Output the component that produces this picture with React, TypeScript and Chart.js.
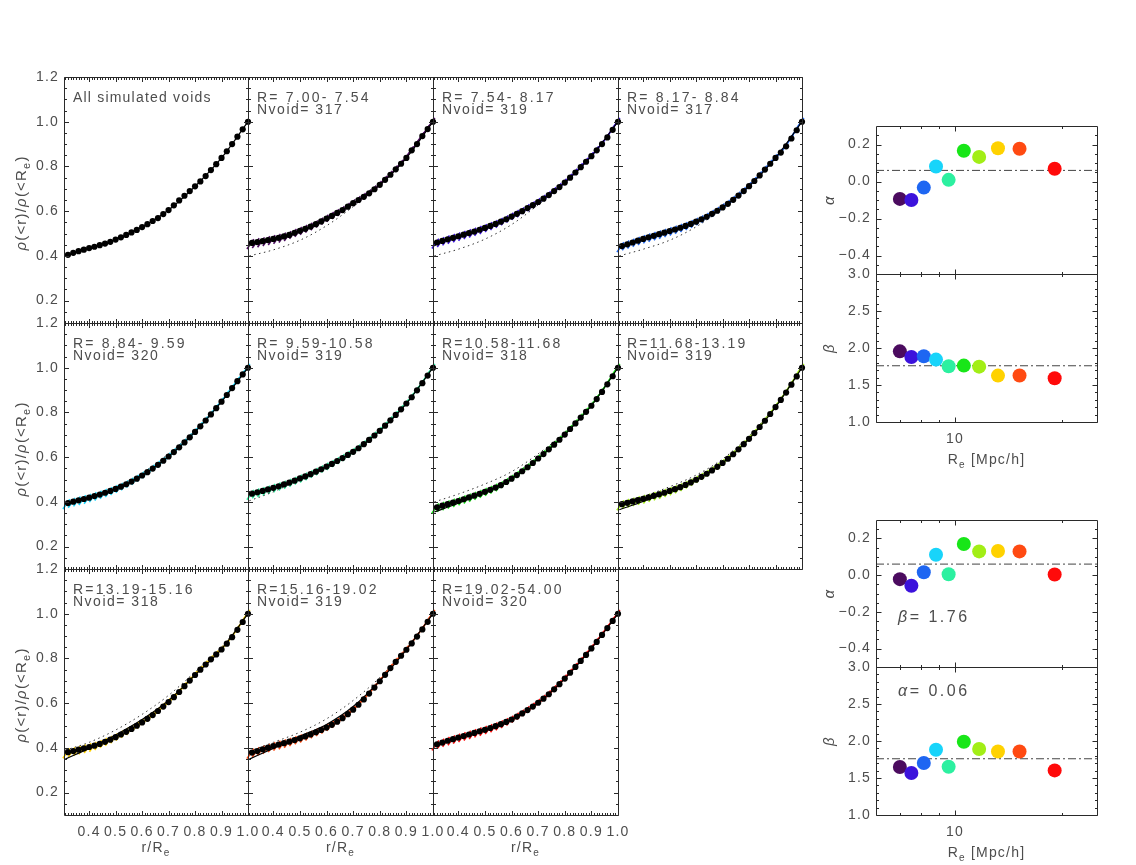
import React, { useEffect, useRef } from 'react';
import { Chart, registerables } from 'chart.js';
Chart.register(...registerables);

const W = 1136;
const H = 865;
const FONT = '"Liberation Sans", Arial, sans-serif';
const TEXT = '#4d4d4d';
const LINE = '#2a2a2a';

// ---------- data: stacked profiles ----------
const R_OVER_RE = [0.32, 0.34, 0.36, 0.38, 0.40, 0.42, 0.44, 0.46, 0.48, 0.50, 0.52, 0.54, 0.56, 0.58, 0.60, 0.62, 0.64, 0.66, 0.68, 0.70, 0.72, 0.74, 0.76, 0.78, 0.80, 0.82, 0.84, 0.86, 0.88, 0.90, 0.92, 0.94, 0.96, 0.98, 1.00];
const FIT_R = [0.31, 0.40, 0.50, 0.60, 0.70, 0.80, 0.90, 1.00];

const P_ALL = [0.405, 0.414, 0.421, 0.428, 0.435, 0.441, 0.448, 0.455, 0.463, 0.473, 0.483, 0.494, 0.505, 0.516, 0.529, 0.542, 0.556, 0.569, 0.587, 0.605, 0.626, 0.648, 0.669, 0.690, 0.711, 0.733, 0.757, 0.784, 0.810, 0.838, 0.868, 0.900, 0.933, 0.966, 1.000];
const P_700 = [0.458, 0.462, 0.466, 0.471, 0.476, 0.481, 0.487, 0.494, 0.503, 0.512, 0.521, 0.531, 0.542, 0.554, 0.567, 0.579, 0.592, 0.605, 0.620, 0.636, 0.650, 0.664, 0.680, 0.698, 0.718, 0.740, 0.763, 0.787, 0.812, 0.838, 0.872, 0.900, 0.936, 0.967, 1.000];
const P_754 = [0.460, 0.467, 0.474, 0.481, 0.488, 0.495, 0.502, 0.509, 0.517, 0.525, 0.534, 0.543, 0.553, 0.564, 0.576, 0.588, 0.600, 0.614, 0.627, 0.641, 0.656, 0.672, 0.690, 0.708, 0.728, 0.750, 0.773, 0.797, 0.821, 0.846, 0.872, 0.900, 0.930, 0.964, 1.000];
const P_817 = [0.444, 0.452, 0.460, 0.468, 0.476, 0.483, 0.490, 0.497, 0.504, 0.511, 0.518, 0.526, 0.534, 0.543, 0.553, 0.564, 0.575, 0.588, 0.602, 0.617, 0.633, 0.651, 0.670, 0.690, 0.712, 0.735, 0.760, 0.786, 0.812, 0.838, 0.862, 0.890, 0.925, 0.962, 1.000];
const P_884 = [0.395, 0.401, 0.407, 0.413, 0.419, 0.426, 0.433, 0.441, 0.449, 0.458, 0.468, 0.479, 0.491, 0.504, 0.518, 0.533, 0.549, 0.566, 0.584, 0.603, 0.623, 0.644, 0.666, 0.689, 0.713, 0.738, 0.764, 0.791, 0.819, 0.848, 0.878, 0.909, 0.940, 0.970, 1.000];
const P_959 = [0.437, 0.443, 0.449, 0.456, 0.463, 0.470, 0.478, 0.486, 0.495, 0.505, 0.514, 0.524, 0.535, 0.546, 0.558, 0.570, 0.583, 0.596, 0.610, 0.624, 0.640, 0.658, 0.677, 0.697, 0.718, 0.741, 0.765, 0.789, 0.814, 0.840, 0.868, 0.899, 0.931, 0.965, 1.000];
const P_1058 = [0.376, 0.383, 0.390, 0.397, 0.404, 0.412, 0.420, 0.428, 0.436, 0.445, 0.454, 0.464, 0.475, 0.489, 0.504, 0.520, 0.537, 0.555, 0.574, 0.594, 0.614, 0.635, 0.656, 0.678, 0.701, 0.726, 0.751, 0.777, 0.803, 0.830, 0.860, 0.892, 0.926, 0.962, 1.000];
const P_1168 = [0.390, 0.396, 0.402, 0.408, 0.414, 0.420, 0.427, 0.434, 0.441, 0.449, 0.457, 0.466, 0.476, 0.487, 0.499, 0.512, 0.526, 0.541, 0.557, 0.574, 0.593, 0.613, 0.635, 0.658, 0.682, 0.708, 0.735, 0.763, 0.793, 0.824, 0.856, 0.889, 0.924, 0.961, 1.000];
const P_1319 = [0.381, 0.386, 0.392, 0.398, 0.404, 0.410, 0.418, 0.427, 0.437, 0.448, 0.460, 0.472, 0.485, 0.499, 0.514, 0.530, 0.547, 0.565, 0.585, 0.605, 0.627, 0.650, 0.676, 0.701, 0.726, 0.750, 0.773, 0.796, 0.818, 0.840, 0.866, 0.895, 0.928, 0.963, 1.000];
const P_1516 = [0.379, 0.386, 0.394, 0.401, 0.408, 0.415, 0.421, 0.428, 0.435, 0.443, 0.451, 0.460, 0.470, 0.480, 0.491, 0.503, 0.517, 0.533, 0.551, 0.571, 0.593, 0.617, 0.643, 0.670, 0.698, 0.727, 0.757, 0.785, 0.812, 0.839, 0.867, 0.898, 0.930, 0.964, 1.000];
const P_1902 = [0.416, 0.424, 0.432, 0.439, 0.446, 0.453, 0.460, 0.467, 0.474, 0.481, 0.489, 0.497, 0.506, 0.516, 0.527, 0.540, 0.554, 0.569, 0.585, 0.602, 0.620, 0.640, 0.662, 0.685, 0.710, 0.736, 0.762, 0.789, 0.816, 0.845, 0.874, 0.905, 0.936, 0.968, 1.000];

// best-fit curves (solid)
const F_ALL = [0.400, 0.435, 0.473, 0.529, 0.605, 0.711, 0.838, 1.000];
const F_700 = [0.456, 0.476, 0.512, 0.567, 0.636, 0.718, 0.838, 1.000];
const F_754 = [0.457, 0.488, 0.525, 0.576, 0.641, 0.728, 0.846, 1.000];
const F_817 = [0.438, 0.474, 0.511, 0.553, 0.617, 0.712, 0.838, 1.000];
const F_884 = [0.392, 0.419, 0.458, 0.518, 0.603, 0.713, 0.848, 1.000];
const F_959 = [0.433, 0.463, 0.505, 0.558, 0.624, 0.718, 0.840, 1.000];
const F_1058 = [0.355, 0.394, 0.445, 0.504, 0.594, 0.701, 0.830, 1.000];
const F_1168 = [0.365, 0.402, 0.449, 0.499, 0.574, 0.682, 0.824, 1.000];
const F_1319 = [0.350, 0.398, 0.458, 0.527, 0.612, 0.726, 0.842, 1.000];
const F_1516 = [0.350, 0.398, 0.452, 0.505, 0.585, 0.700, 0.840, 1.000];
const F_1902 = [0.413, 0.446, 0.481, 0.527, 0.602, 0.710, 0.845, 1.000];

// universal-parameter curves (dotted)
const D_700 = [0.400, 0.427, 0.470, 0.535, 0.620, 0.718, 0.838, 1.000];
const D_754 = [0.400, 0.430, 0.475, 0.540, 0.628, 0.728, 0.846, 1.000];
const D_817 = [0.400, 0.430, 0.470, 0.530, 0.612, 0.712, 0.838, 1.000];
const D_884 = [0.390, 0.421, 0.465, 0.528, 0.615, 0.720, 0.850, 1.000];
const D_959 = [0.405, 0.445, 0.500, 0.556, 0.624, 0.718, 0.840, 1.000];
const D_1058 = [0.400, 0.435, 0.480, 0.535, 0.615, 0.710, 0.835, 1.000];
const D_1168 = [0.392, 0.425, 0.468, 0.520, 0.592, 0.695, 0.830, 1.000];
const D_1319 = [0.390, 0.425, 0.480, 0.550, 0.635, 0.740, 0.850, 1.000];
const D_1516 = [0.385, 0.425, 0.470, 0.530, 0.612, 0.715, 0.845, 1.000];
const D_1902 = [0.405, 0.440, 0.480, 0.527, 0.602, 0.710, 0.845, 1.000];

const PANEL_TITLES = ['All simulated voids', 'R= 7.00- 7.54', 'R= 7.54- 8.17', 'R= 8.17- 8.84', 'R= 8.84- 9.59', 'R= 9.59-10.58', 'R=10.58-11.68', 'R=11.68-13.19', 'R=13.19-15.16', 'R=15.16-19.02', 'R=19.02-54.00'];
const NVOID = [0, 317, 319, 317, 320, 319, 318, 319, 318, 319, 320];
const PROFILES = [P_ALL, P_700, P_754, P_817, P_884, P_959, P_1058, P_1168, P_1319, P_1516, P_1902];
const FITS = [F_ALL, F_700, F_754, F_817, F_884, F_959, F_1058, F_1168, F_1319, F_1516, F_1902];
const DOTTED = [null, D_700, D_754, D_817, D_884, D_959, D_1058, D_1168, D_1319, D_1516, D_1902];

// ---------- data: fitted parameters ----------
const BIN_RE = [7.00, 7.54, 8.17, 8.84, 9.59, 10.58, 11.68, 13.19, 15.16, 19.02];
const BIN_COLORS = ['#4b0b5f', '#3c12dc', '#1e66f2', '#18d4fa', '#2cf0a0', '#18e618', '#a2ee16', '#ffd200', '#ff4a12', '#ff0a0a'];
const ALPHA_FREE = [-0.094, -0.100, -0.033, 0.081, 0.009, 0.166, 0.133, 0.180, 0.177, 0.069];
const BETA_FREE = [1.955, 1.878, 1.888, 1.843, 1.753, 1.762, 1.748, 1.627, 1.628, 1.591];
const ALPHA_FIXED_BETA = [-0.022, -0.058, 0.016, 0.111, 0.005, 0.169, 0.129, 0.131, 0.129, 0.003];
const BETA_FIXED_ALPHA = [1.649, 1.568, 1.703, 1.882, 1.653, 1.990, 1.892, 1.859, 1.859, 1.603];
const ALPHA_MEAN = 0.06;
const BETA_MEAN = 1.76;

// tick label lists
const PROFILE_Y_TICKS = [0.2, 0.4, 0.6, 0.8, 1.0, 1.2];
const PROFILE_X_TICKS = [0.4, 0.5, 0.6, 0.7, 0.8, 0.9, 1.0];
const ALPHA_TICKS = [-0.4, -0.2, 0.0, 0.2];
const BETA_TICKS = [1.0, 1.5, 2.0, 2.5, 3.0];
const RE_MAJOR = [10];
const RE_MINOR = [7, 8, 9, 20];

// ---------- layout ----------
const COL_EDGES = [64, 248, 433, 618, 802];
const ROW_EDGES = [77, 323, 569, 815];
const RIGHT_L = 876;
const RIGHT_R = 1097;

type Seg = { t: string; it?: boolean; sub?: boolean };

function drawRich(ctx: CanvasRenderingContext2D, segs: Seg[], x: number, y: number, align: 'left' | 'center' | 'right', size: number, rotate = false, spacing = 1.2) {
  ctx.save();
  ctx.translate(x, y);
  if (rotate) ctx.rotate(-Math.PI / 2);
  (ctx as any).letterSpacing = spacing + 'px';
  ctx.fillStyle = TEXT;
  ctx.textAlign = 'left';
  ctx.textBaseline = 'middle';
  const fontFor = (s: Seg) => `${s.it ? 'italic ' : ''}${s.sub ? Math.round(size * 0.7) : size}px ${FONT}`;
  const widths = segs.map((s) => {
    ctx.font = fontFor(s);
    return ctx.measureText(s.t).width;
  });
  const total = widths.reduce((a, b) => a + b, 0);
  let cx = align === 'left' ? 0 : align === 'center' ? -total / 2 : -total;
  segs.forEach((s, i) => {
    ctx.font = fontFor(s);
    ctx.fillText(s.t, cx, s.sub ? size * 0.35 : 0);
    cx += widths[i];
  });
  ctx.restore();
}

type FrameCfg = {
  xMajor: number[];
  xMinor: number[];
  yMajor: number[];
  yMinor: number[];
  majLen: number;
  minLen: number;
  xLabels?: { v: number; t: string }[];
  yLabels?: { v: number; t: string }[];
  extra?: (ctx: CanvasRenderingContext2D, a: any) => void;
};

function framePlugin(cfg: FrameCfg) {
  return {
    id: 'frame',
    afterDraw(chart: any) {
      const { ctx, chartArea: a, scales } = chart;
      const x = scales.x;
      const y = scales.y;
      ctx.save();
      ctx.strokeStyle = LINE;
      ctx.lineWidth = 1;
      ctx.beginPath();
      ctx.rect(a.left + 0.5, a.top + 0.5, a.right - a.left, a.bottom - a.top);
      ctx.stroke();
      const vtick = (v: number, len: number) => {
        const px = Math.round(x.getPixelForValue(v)) + 0.5;
        ctx.moveTo(px, a.bottom + 0.5);
        ctx.lineTo(px, a.bottom + 0.5 - len);
        ctx.moveTo(px, a.top + 0.5);
        ctx.lineTo(px, a.top + 0.5 + len);
      };
      const htick = (v: number, len: number) => {
        const py = Math.round(y.getPixelForValue(v)) + 0.5;
        ctx.moveTo(a.left + 0.5, py);
        ctx.lineTo(a.left + 0.5 + len, py);
        ctx.moveTo(a.right + 0.5, py);
        ctx.lineTo(a.right + 0.5 - len, py);
      };
      ctx.beginPath();
      cfg.xMajor.forEach((v) => vtick(v, cfg.majLen));
      cfg.xMinor.forEach((v) => vtick(v, cfg.minLen));
      cfg.yMajor.forEach((v) => htick(v, cfg.majLen));
      cfg.yMinor.forEach((v) => htick(v, cfg.minLen));
      ctx.stroke();
      (cfg.xLabels || []).forEach((l) => {
        drawRich(ctx, [{ t: l.t }], x.getPixelForValue(l.v), a.bottom + 17, 'center', 14);
      });
      (cfg.yLabels || []).forEach((l) => {
        drawRich(ctx, [{ t: l.t }], a.left - 5, y.getPixelForValue(l.v), 'right', 14);
      });
      if (cfg.extra) cfg.extra(ctx, a);
      ctx.restore();
    },
  };
}

function baseOptions(l: number, t: number, r: number, b: number, xScale: any, yScale: any) {
  return {
    animation: false,
    responsive: false,
    devicePixelRatio: 1,
    events: [],
    layout: { padding: { left: l, top: t, right: W - r, bottom: H - b } },
    plugins: { legend: { display: false }, tooltip: { enabled: false }, title: { display: false } },
    scales: {
      x: { ...xScale, display: false },
      y: { ...yScale, display: false },
    },
  };
}

function range(from: number, to: number, step: number): number[] {
  const out: number[] = [];
  const n = Math.round((to - from) / step);
  for (let i = 0; i <= n; i++) out.push(+(from + i * step).toFixed(4));
  return out;
}

const RHO_TITLE: Seg[] = [{ t: 'ρ', it: true }, { t: '(<r)/' }, { t: 'ρ', it: true }, { t: '(<R' }, { t: 'e', sub: true }, { t: ')' }];

function profileConfig(k: number) {
  const row = Math.floor(k / 4);
  const col = k % 4;
  const l = COL_EDGES[col];
  const r = COL_EDGES[col + 1];
  const t = ROW_EDGES[row];
  const b = ROW_EDGES[row + 1];
  const prof = PROFILES[k];
  const pts = R_OVER_RE.map((rv, i) => ({ x: rv, y: prof[i] }));
  const datasets: any[] = [
    { data: pts, showLine: false, pointRadius: 3.1, pointBackgroundColor: '#000', pointBorderWidth: 0, clip: false },
    {
      data: FIT_R.map((rv, i) => ({ x: rv, y: FITS[k][i] })),
      showLine: true, pointRadius: 0, borderColor: '#000', borderWidth: 1.2, cubicInterpolationMode: 'monotone',
    },
  ];
  const dot = DOTTED[k];
  if (dot) {
    datasets.push({
      data: FIT_R.map((rv, i) => ({ x: rv, y: dot[i] })),
      showLine: true, pointRadius: 0, borderColor: '#333', borderWidth: 1, borderDash: [1.5, 3.5], cubicInterpolationMode: 'monotone',
    });
    const c = BIN_COLORS[k - 1];
    datasets.push({
      data: pts.map((p) => ({ x: p.x - 0.006, y: p.y - 0.005 })),
      showLine: true, borderColor: c, borderWidth: 1.2, pointStyle: 'line', pointRotation: -55, pointRadius: 6,
      pointBorderColor: c, pointBorderWidth: 1.6, clip: false,
    });
  }
  const frame = framePlugin({
    xMajor: PROFILE_X_TICKS,
    xMinor: range(0.31, 0.99, 0.01).filter((v) => Math.abs(v * 10 - Math.round(v * 10)) > 1e-6),
    yMajor: PROFILE_Y_TICKS,
    yMinor: range(0.15, 1.15, 0.05).filter((v) => Math.abs(v * 5 - Math.round(v * 5)) > 1e-6),
    majLen: 4.5,
    minLen: 2.5,
    xLabels: row === 2 ? PROFILE_X_TICKS.map((v) => ({ v, t: v.toFixed(1) })) : undefined,
    yLabels: col === 0 ? PROFILE_Y_TICKS.map((v) => ({ v, t: v.toFixed(1) })) : undefined,
    extra: (ctx, a) => {
      if (k === 0) {
        drawRich(ctx, [{ t: PANEL_TITLES[k] }], a.left + 9, a.top + 21, 'left', 14, false, 1.2);
      } else {
        drawRich(ctx, [{ t: PANEL_TITLES[k] }], a.left + 9, a.top + 21, 'left', 14, false, 2.2);
        drawRich(ctx, [{ t: 'Nvoid= ' + NVOID[k] }], a.left + 9, a.top + 33, 'left', 14, false, 1.5);
      }
      if (col === 0) drawRich(ctx, RHO_TITLE, 22, (a.top + a.bottom) / 2 + 3, 'center', 15, true, 1.2);
      if (row === 2) drawRich(ctx, [{ t: 'r/R' }, { t: 'e', sub: true }], (a.left + a.right) / 2, a.bottom + 33, 'center', 14);
    },
  });
  return {
    type: 'scatter',
    data: { datasets },
    options: baseOptions(l, t, r, b, { type: 'linear', min: 0.305, max: 1.0 }, { type: 'linear', min: 0.1, max: 1.2 }),
    plugins: [frame],
  };
}

function paramConfig(which: 'alpha' | 'beta', values: number[], mean: number, t: number, b: number, showX: boolean, note?: Seg[]) {
  const isA = which === 'alpha';
  const yMin = isA ? -0.5 : 1.0;
  const yMax = isA ? 0.3 : 3.0;
  const xMin = 6;
  const xMax = 25;
  const datasets: any[] = [
    {
      data: BIN_RE.map((rv, i) => ({ x: rv, y: values[i] })),
      showLine: false, pointRadius: 7, pointBackgroundColor: BIN_COLORS, pointBorderWidth: 0, clip: false,
    },
    {
      data: [{ x: xMin, y: mean }, { x: xMax, y: mean }],
      showLine: true, pointRadius: 0, borderColor: '#444', borderWidth: 1, borderDash: [8, 3, 2, 3],
    },
  ];
  const ticks = isA ? ALPHA_TICKS : BETA_TICKS;
  const frame = framePlugin({
    xMajor: RE_MAJOR,
    xMinor: RE_MINOR,
    yMajor: ticks,
    yMinor: isA ? range(-0.45, 0.25, 0.05).filter((v) => Math.abs(v * 5 - Math.round(v * 5)) > 1e-6) : range(1.1, 2.9, 0.1).filter((v) => Math.abs(v * 2 - Math.round(v * 2)) > 1e-6),
    majLen: 5,
    minLen: 2.5,
    xLabels: showX ? RE_MAJOR.map((v) => ({ v, t: String(v) })) : undefined,
    yLabels: ticks.map((v) => ({ v, t: (v < 0 ? '−' : '') + Math.abs(v).toFixed(1) })),
    extra: (ctx, a) => {
      drawRich(ctx, [{ t: isA ? 'α' : 'β', it: true }], 830, (a.top + a.bottom) / 2, 'center', 15, true);
      if (showX) drawRich(ctx, [{ t: 'R' }, { t: 'e', sub: true }, { t: ' [Mpc/h]' }], (a.left + a.right) / 2, a.bottom + 38, 'center', 14);
      if (note) drawRich(ctx, note, a.left + 22, isA ? a.top + 98 : a.top + 25, 'left', 16, false, 2.5);
    },
  });
  return {
    type: 'scatter',
    data: { datasets },
    options: baseOptions(RIGHT_L, t, RIGHT_R, b, { type: 'logarithmic', min: xMin, max: xMax }, { type: 'linear', min: yMin, max: yMax }),
    plugins: [frame],
  };
}

function ChartCanvas({ build }: { build: () => any }) {
  const ref = useRef<HTMLCanvasElement>(null);
  useEffect(() => {
    const chart = new Chart(ref.current as HTMLCanvasElement, build());
    return () => chart.destroy();
  }, []);
  return <canvas ref={ref} width={W} height={H} style={{ position: 'absolute', left: 0, top: 0, width: W, height: H }} />;
}

export default function App() {
  const builders: (() => any)[] = [];
  for (let k = 0; k < PROFILES.length; k++) builders.push(() => profileConfig(k));
  builders.push(() => paramConfig('alpha', ALPHA_FREE, ALPHA_MEAN, 126, 274, false));
  builders.push(() => paramConfig('beta', BETA_FREE, BETA_MEAN, 274, 422, true));
  builders.push(() => paramConfig('alpha', ALPHA_FIXED_BETA, ALPHA_MEAN, 520, 667, false, [{ t: 'β', it: true }, { t: '= 1.76' }]));
  builders.push(() => paramConfig('beta', BETA_FIXED_ALPHA, BETA_MEAN, 667, 815, true, [{ t: 'α', it: true }, { t: '= 0.06' }]));
  return (
    <div style={{ position: 'absolute', left: 0, top: 0, width: W, height: H, background: '#fff', overflow: 'hidden' }}>
      {builders.map((b, i) => (
        <ChartCanvas key={i} build={b} />
      ))}
    </div>
  );
}
